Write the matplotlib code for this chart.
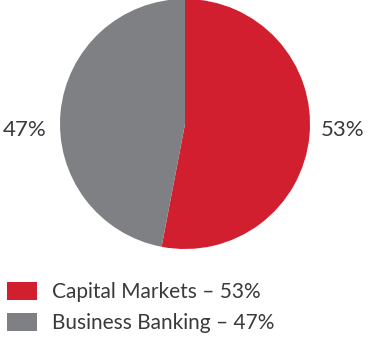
import matplotlib
matplotlib.use("Agg")
import matplotlib.pyplot as plt
from matplotlib.patches import Patch

segments = ["Capital Markets", "Business Banking"]
shares = [53, 47]
colours = ["#d11f2f", "#7f8084"]

plt.rcParams['font.family'] = ['Lato', 'DejaVu Sans']
text_colour = '#3a3a3a'

fig = plt.figure(figsize=(3.69, 3.40), dpi=100)
ax = fig.add_axes([(185 - 125) / 369, (340 - 249) / 340, 250 / 369, 250 / 340])
ax.pie(shares, colors=colours, startangle=90, counterclock=False, radius=1,
       wedgeprops=dict(linewidth=0))
ax.set_xlim(-1, 1)
ax.set_ylim(-1, 1)
ax.set_aspect('equal')
ax.axis('off')

# value labels beside the pie
ax.text(1.26, -0.05, "%d%%" % shares[0], ha='center', va='center',
        fontsize=16, color=text_colour, clip_on=False)
ax.text(-1.28, -0.05, "%d%%" % shares[1], ha='center', va='center',
        fontsize=16, color=text_colour, clip_on=False)

handles = [Patch(facecolor=c, edgecolor='none') for c in colours]
labels = ["%s \u2013 %d%%" % (s, v) for s, v in zip(segments, shares)]
fig.legend(handles, labels, loc='upper left', bbox_to_anchor=(7 / 369, 1 - 282 / 340),
           frameon=False, prop=dict(size=15),
           handlelength=1.44, handleheight=0.96, handletextpad=0.72,
           labelspacing=0.5, borderpad=0, borderaxespad=0)
for t in fig.legends[0].get_texts():
    t.set_color(text_colour)

fig.savefig("out.png", dpi=100)
